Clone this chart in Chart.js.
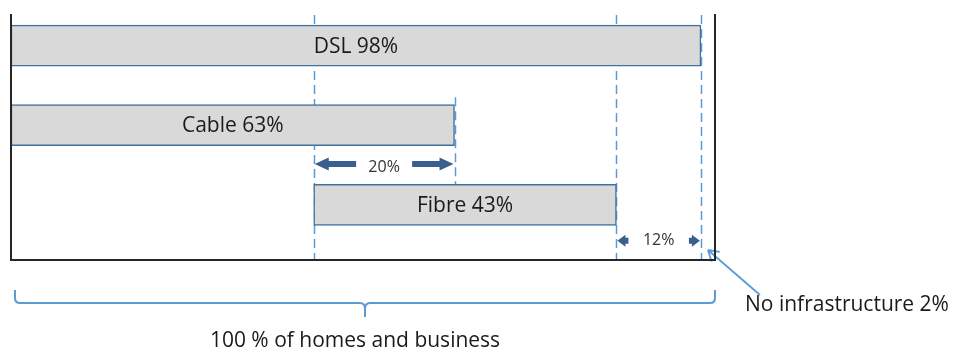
<!DOCTYPE html>
<html>
<head>
<meta charset="utf-8">
<script src="https://cdn.jsdelivr.net/npm/chart.js@4.4.1/dist/chart.umd.min.js"></script>
<style>
  html, body { margin: 0; padding: 0; background: #fff; }
  #wrap { width: 957px; height: 349px; }
</style>
</head>
<body>
<div id="wrap"><canvas id="coverageChart"></canvas></div>
<script>
// coverage of homes and business, in %
const technologies = ['DSL', 'Cable', 'Fibre'];
const coverageStart = [0, 0, 43];
const coverageEnd = [98, 63, 86];
const totalCoverage = 100;
const noInfraText = 'No infrastructure';
const totalText = '100 % of homes and business';

const BLUE_LINE = '#5b9bd5';
const ARROW_BLUE = '#3a5e8f';
const TEXT = '#1a1a1a';
const FONT = '"Open Sans", "DejaVu Sans", sans-serif';

function blockArrow(ctx, tipX, y, dir, headLen, headH, shaftLen, shaftH) {
  // dir -1 = points left, +1 = points right
  const baseX = tipX - dir * headLen;
  const endX = baseX - dir * shaftLen;
  ctx.beginPath();
  ctx.moveTo(tipX, y);
  ctx.lineTo(baseX, y - headH / 2);
  ctx.lineTo(baseX, y - shaftH / 2);
  ctx.lineTo(endX, y - shaftH / 2);
  ctx.lineTo(endX, y + shaftH / 2);
  ctx.lineTo(baseX, y + shaftH / 2);
  ctx.lineTo(baseX, y + headH / 2);
  ctx.closePath();
  ctx.fill();
}

const annotations = {
  id: 'annotations',
  beforeDatasetsDraw(chart) {
    const { ctx, chartArea: area, scales: { x, y } } = chart;
    // dashed guides: fibre start, cable end, fibre end, dsl end
    const guides = [
      { v: coverageStart[2], top: area.top, bottom: area.bottom },
      { v: coverageEnd[1], top: y.getPixelForValue(0.65), bottom: y.getPixelForValue(1.75) },
      { v: coverageEnd[2], top: area.top, bottom: area.bottom },
      { v: coverageEnd[0], top: area.top, bottom: area.bottom }
    ];
    ctx.save();
    ctx.strokeStyle = BLUE_LINE;
    ctx.lineWidth = 1.5;
    ctx.setLineDash([9, 5]);
    guides.forEach(g => {
      const px = Math.round(x.getPixelForValue(g.v)) + 0.5;
      ctx.beginPath();
      ctx.moveTo(px, g.top);
      ctx.lineTo(px, g.bottom);
      ctx.stroke();
    });
    ctx.restore();
  },
  afterDatasetsDraw(chart) {
    const { ctx, chartArea: area, scales: { x, y } } = chart;
    ctx.save();

    // labels inside the bars
    ctx.fillStyle = TEXT;
    ctx.font = '21px ' + FONT;
    ctx.textAlign = 'center';
    ctx.textBaseline = 'middle';
    chart.getDatasetMeta(0).data.forEach((bar, i) => {
      const c = bar.getCenterPoint();
      ctx.fillText(technologies[i] + ' ' + (coverageEnd[i] - coverageStart[i]) + '%', c.x, c.y + 1);
    });

    // overlap cable / fibre
    ctx.fillStyle = ARROW_BLUE;
    const ax1 = x.getPixelForValue(coverageStart[2]);
    const ax2 = x.getPixelForValue(coverageEnd[1]);
    const ay = y.getPixelForValue(1.5) - 1;
    const armLen = (ax2 - ax1 - 58) / 2;
    blockArrow(ctx, ax1 + 1, ay, -1, 14, 13, armLen - 14, 6);
    blockArrow(ctx, ax2 - 1, ay, 1, 14, 13, armLen - 14, 6);
    ctx.fillStyle = '#333';
    ctx.font = '16px ' + FONT;
    ctx.fillText((coverageEnd[1] - coverageStart[2]) + '%', (ax1 + ax2) / 2, ay + 3);

    // dsl only zone
    ctx.fillStyle = ARROW_BLUE;
    const bx1 = x.getPixelForValue(coverageEnd[2]);
    const bx2 = x.getPixelForValue(coverageEnd[0]);
    const by = y.getPixelForValue(2.45);
    blockArrow(ctx, bx1 + 1, by, -1, 8, 12, 3, 6);
    blockArrow(ctx, bx2 - 1, by, 1, 8, 12, 3, 6);
    ctx.fillStyle = '#333';
    ctx.fillText((coverageEnd[0] - coverageEnd[2]) + '%', (bx1 + bx2) / 2, by);

    // pointer to the no infrastructure part
    const tipX = x.getPixelForValue((coverageEnd[0] + totalCoverage) / 2);
    const tipY = area.bottom - 10;
    const endX = area.right + 45, endY = area.bottom + 35;
    ctx.strokeStyle = BLUE_LINE;
    ctx.lineWidth = 1.8;
    ctx.beginPath();
    ctx.moveTo(endX, endY);
    ctx.lineTo(tipX, tipY);
    const ang = Math.atan2(endY - tipY, endX - tipX);
    [-0.55, 0.55].forEach(d => {
      ctx.moveTo(tipX, tipY);
      ctx.lineTo(tipX + 12 * Math.cos(ang + d), tipY + 12 * Math.sin(ang + d));
    });
    ctx.stroke();
    ctx.fillStyle = TEXT;
    ctx.font = '21px ' + FONT;
    ctx.textAlign = 'left';
    ctx.textBaseline = 'alphabetic';
    ctx.fillText(noInfraText + ' ' + (totalCoverage - coverageEnd[0]) + '%', area.right + 30, area.bottom + 51);

    // brace under the whole range
    const L = x.getPixelForValue(0) + 4;
    const R = x.getPixelForValue(totalCoverage);
    const C = (L + R) / 2;
    const top = area.bottom + 30, mid = area.bottom + 43, tip = area.bottom + 57;
    ctx.strokeStyle = BLUE_LINE;
    ctx.lineWidth = 2;
    ctx.beginPath();
    ctx.moveTo(L, top);
    ctx.lineTo(L, mid - 5);
    ctx.quadraticCurveTo(L, mid, L + 5, mid);
    ctx.lineTo(C - 5, mid);
    ctx.quadraticCurveTo(C, mid, C, mid + 6);
    ctx.lineTo(C, tip);
    ctx.moveTo(C, mid + 6);
    ctx.quadraticCurveTo(C, mid, C + 5, mid);
    ctx.lineTo(R - 5, mid);
    ctx.quadraticCurveTo(R, mid, R, mid - 5);
    ctx.lineTo(R, top);
    ctx.stroke();
    ctx.textAlign = 'center';
    ctx.fillText(totalText, C - 10, area.bottom + 87);

    ctx.restore();
  }
};

const frameBorder = { display: true, color: '#262626', width: 2, z: 1 };

new Chart(document.getElementById('coverageChart'), {
  type: 'bar',
  data: {
    datasets: [{
      data: technologies.map((t, i) => ({ y: i, x: [coverageStart[i], coverageEnd[i]] })),
      xAxisID: 'x',
      yAxisID: 'y',
      backgroundColor: '#d9d9d9',
      borderColor: '#41719c',
      borderWidth: 1.5,
      borderSkipped: false,
      barThickness: 41
    }]
  },
  options: {
    indexAxis: 'y',
    responsive: true,
    maintainAspectRatio: false,
    animation: false,
    layout: { padding: { left: 11, right: 242, top: 15, bottom: 89 } },
    plugins: { legend: { display: false }, tooltip: { enabled: false } },
    scales: {
      x: {
        type: 'linear', min: 0, max: totalCoverage, offset: false,
        ticks: { display: false },
        grid: { display: false, drawTicks: false },
        border: frameBorder,
        afterFit: s => { s.height = 0; }
      },
      y: {
        type: 'linear', reverse: true, min: -0.384, max: 2.693, offset: false,
        ticks: { display: false },
        grid: { display: false, drawTicks: false },
        border: frameBorder,
        afterFit: s => { s.width = 0; }
      },
      y2: {
        type: 'linear', position: 'right', offset: false,
        ticks: { display: false },
        grid: { display: false, drawTicks: false },
        border: frameBorder,
        afterFit: s => { s.width = 0; }
      }
    }
  },
  plugins: [annotations]
});
</script>
</body>
</html>
